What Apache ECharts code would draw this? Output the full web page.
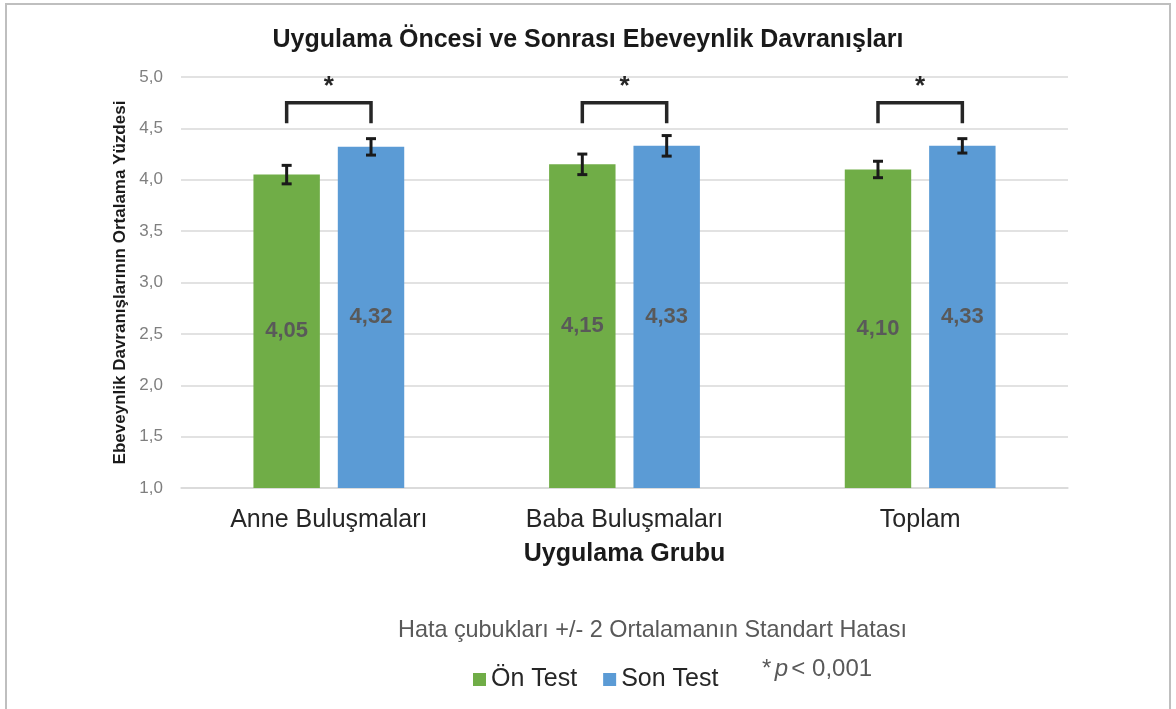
<!DOCTYPE html>
<html>
<head>
<meta charset="utf-8">
<script src="https://cdn.jsdelivr.net/npm/echarts@6/dist/echarts.min.js"></script>
<style>
  html, body { margin: 0; padding: 0; background: #fff; }
  #chart { width: 1176px; height: 709px; }
</style>
</head>
<body>
<div id="chart"></div>
<script>
// data
const categories = ['Anne Buluşmaları', 'Baba Buluşmaları', 'Toplam']
const onTest = [4.05, 4.15, 4.10]
const sonTest = [4.32, 4.33, 4.33]
// +/- 2 standard errors
const onTestErr = [0.09, 0.10, 0.08]
const sonTestErr = [0.08, 0.10, 0.07]
// significance brackets (y values in axis units)
const bracketLow = [4.55, 4.55, 4.55]
const bracketHigh = [4.75, 4.75, 4.75]
const starLevel = [4.90, 4.90, 4.90]
const yTicks = [1.0, 1.5, 2.0, 2.5, 3.0, 3.5, 4.0, 4.5, 5.0]

const GREEN = '#70AD47'
const BLUE = '#5B9BD5'
const CAT_GAP = 0.49
const BAR_GAP = 0.27
const FONT = 'Liberation Sans'

const fmt = v => v.toFixed(2).replace('.', ',')

// horizontal offset of a bar centre from the category centre
function barOffset (api) {
  const band = api.size([1, 0])[0]
  const total = band * (1 - CAT_GAP)
  const barW = total / (2 + BAR_GAP)
  return barW * (1 + BAR_GAP) / 2
}

function errorItem (sign) {
  return function (params, api) {
    const c = api.value(0)
    const lo = api.coord([c, api.value(1)])
    const hi = api.coord([c, api.value(2)])
    const x = lo[0] + sign * barOffset(api)
    const cap = 5
    const st = { stroke: '#1a1a1a', lineWidth: 3 }
    return {
      type: 'group',
      children: [
        { type: 'line', shape: { x1: x, y1: lo[1], x2: x, y2: hi[1] }, style: st },
        { type: 'line', shape: { x1: x - cap, y1: lo[1], x2: x + cap, y2: lo[1] }, style: st },
        { type: 'line', shape: { x1: x - cap, y1: hi[1], x2: x + cap, y2: hi[1] }, style: st }
      ]
    }
  }
}

function bracketItem (params, api) {
  const c = api.value(0)
  const lo = api.coord([c, api.value(1)])
  const hi = api.coord([c, api.value(2)])
  const star = api.coord([c, api.value(3)])
  const off = barOffset(api)
  const xl = lo[0] - off
  const xr = lo[0] + off
  return {
    type: 'group',
    children: [
      {
        type: 'polyline',
        shape: { points: [[xl, lo[1]], [xl, hi[1]], [xr, hi[1]], [xr, lo[1]]] },
        style: { stroke: '#262626', lineWidth: 3.5, fill: null }
      },
      {
        type: 'text',
        style: {
          x: lo[0], y: star[1], text: '*',
          fontSize: 26, fontWeight: 'bold', fill: '#262626',
          fontFamily: FONT,
          align: 'center', verticalAlign: 'middle'
        }
      }
    ]
  }
}

const chart = echarts.init(document.getElementById('chart'))
chart.setOption({
  animation: false,
  textStyle: { fontFamily: FONT },
  title: {
    text: 'Uygulama Öncesi ve Sonrası Ebeveynlik Davranışları',
    left: 'center',
    top: 23,
    textStyle: { fontSize: 25, fontWeight: 'bold', color: '#1a1a1a', fontFamily: FONT }
  },
  grid: { left: 181, right: 108, top: 77, bottom: 221 },
  legend: {
    data: ['Ön Test', 'Son Test'],
    left: 468,
    top: 662,
    itemWidth: 13,
    itemHeight: 13,
    itemGap: 26,
    icon: 'rect',
    textStyle: { fontSize: 25, color: '#262626', fontFamily: FONT }
  },
  xAxis: {
    type: 'category',
    data: categories,
    name: 'Uygulama Grubu',
    nameLocation: 'middle',
    nameGap: 54,
    nameTextStyle: { fontSize: 25, fontWeight: 'bold', color: '#1a1a1a' },
    axisLine: { lineStyle: { color: '#d9d9d9', width: 1.5 } },
    axisTick: { show: false },
    axisLabel: { fontSize: 25, color: '#262626', margin: 20 }
  },
  yAxis: {
    type: 'value',
    min: yTicks[0],
    max: yTicks[yTicks.length - 1],
    interval: 0.5,
    name: 'Ebeveynlik Davranışlarının Ortalama Yüzdesi',
    nameLocation: 'middle',
    nameGap: 52,
    nameTextStyle: { fontSize: 17, fontWeight: 'bold', color: '#1a1a1a' },
    axisLine: { show: false },
    axisTick: { show: false },
    splitLine: { lineStyle: { color: '#d9d9d9', width: 1.5 } },
    axisLabel: { fontSize: 17, color: '#7f7f7f', margin: 18, formatter: v => v.toFixed(1).replace('.', ',') }
  },
  series: [
    {
      name: 'Ön Test',
      type: 'bar',
      data: onTest,
      itemStyle: { color: GREEN },
      barGap: (BAR_GAP * 100) + '%',
      barCategoryGap: (CAT_GAP * 100) + '%',
      label: {
        show: true, position: 'inside', formatter: p => fmt(p.value),
        fontSize: 22, fontWeight: 'bold', color: '#595959'
      }
    },
    {
      name: 'Son Test',
      type: 'bar',
      data: sonTest,
      itemStyle: { color: BLUE },
      label: {
        show: true, position: 'inside', formatter: p => fmt(p.value),
        fontSize: 22, fontWeight: 'bold', color: '#595959'
      }
    },
    {
      type: 'custom',
      renderItem: errorItem(-1),
      data: onTest.map((v, i) => [i, v - onTestErr[i], v + onTestErr[i]]),
      z: 5
    },
    {
      type: 'custom',
      renderItem: errorItem(1),
      data: sonTest.map((v, i) => [i, v - sonTestErr[i], v + sonTestErr[i]]),
      z: 5
    },
    {
      type: 'custom',
      renderItem: bracketItem,
      data: categories.map((c, i) => [i, bracketLow[i], bracketHigh[i], starLevel[i]]),
      z: 5
    }
  ],
  graphic: [
    {
      type: 'rect',
      shape: { x: 6, y: 4, width: 1164, height: 720 },
      style: { fill: null, stroke: '#bfbfbf', lineWidth: 2 },
      silent: true
    },
    {
      type: 'text',
      left: 398,
      top: 619,
      style: {
        text: 'Hata çubukları +/- 2 Ortalamanın Standart Hatası',
        fontSize: 23.4, fill: '#595959', fontFamily: FONT
      }
    },
    {
      type: 'text',
      left: 762,
      top: 657,
      style: {
        text: '{s|*} {p|p} {s|< 0,001}',
        rich: {
          s: { fontSize: 24, fill: '#595959', fontFamily: FONT },
          p: { fontSize: 24, fill: '#595959', fontStyle: 'italic', fontFamily: FONT }
        }
      }
    }
  ]
})
</script>
</body>
</html>
